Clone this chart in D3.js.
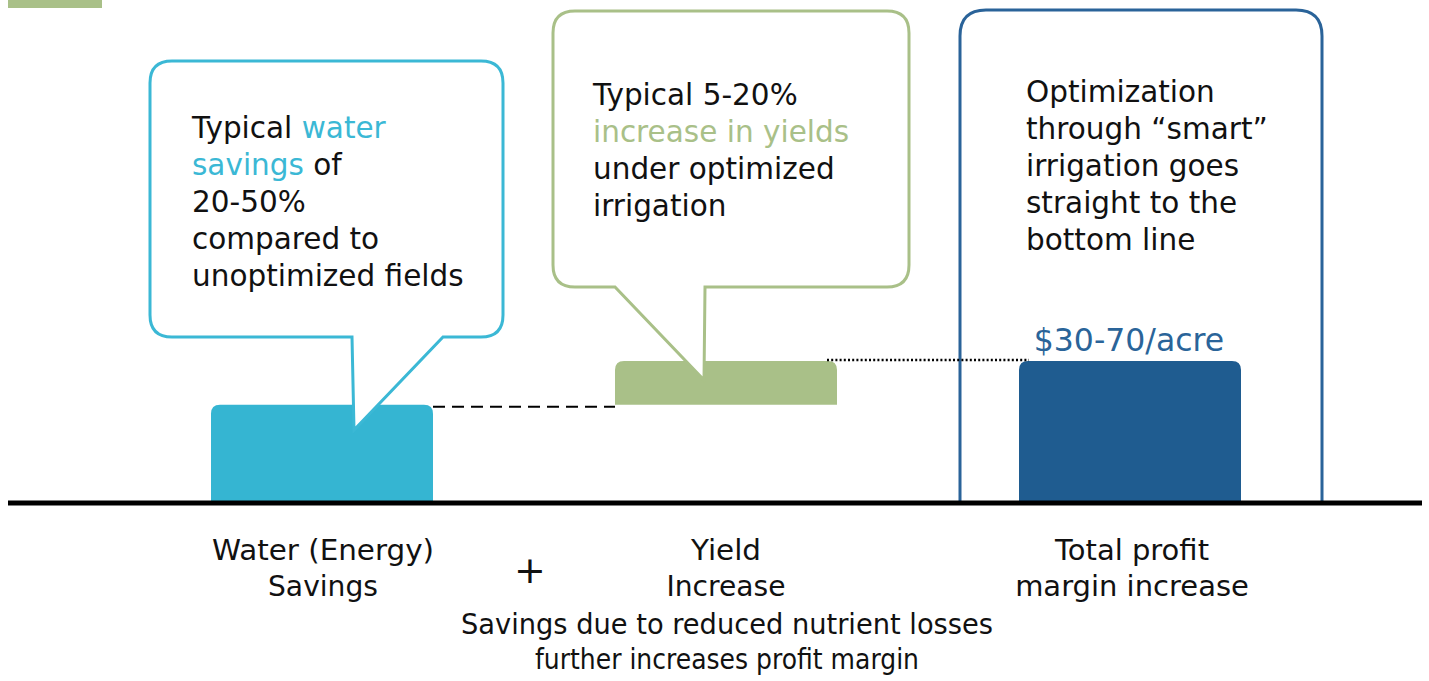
<!DOCTYPE html>
<html>
<head>
<meta charset="utf-8">
<script src="https://cdn.jsdelivr.net/npm/d3@7"></script>
<style>
  body { margin: 0; background: #fff; }
  svg text { font-family: "DejaVu Sans", Verdana, sans-serif; }
</style>
</head>
<body>
<div id="chart"></div>
<script>
// chart values (waterfall: water savings + yield increase = total)
var categories = ["water", "yield", "total"];
var labels = [
  ["Water (Energy)", "Savings"],
  ["Yield", "Increase"],
  ["Total profit", "margin increase"]
];
var values = [2.0, 0.9, 2.9];
var valueLabel = "$30-70/acre";
var noteLines = ["Savings due to reduced nutrient losses", "further increases profit margin"];

var calloutWater = [
  [{ t: "Typical " }, { t: "water", c: "accent" }],
  [{ t: "savings", c: "accent" }, { t: " of" }],
  [{ t: "20-50%" }],
  [{ t: "compared to" }],
  [{ t: "unoptimized fields" }]
];
var calloutYield = [
  [{ t: "Typical 5-20%" }],
  [{ t: "increase in yields", c: "accent" }],
  [{ t: "under optimized" }],
  [{ t: "irrigation" }]
];
var calloutTotal = [
  [{ t: "Optimization" }],
  [{ t: "through \u201csmart\u201d" }],
  [{ t: "irrigation goes" }],
  [{ t: "straight to the" }],
  [{ t: "bottom line" }]
];

var colors = { water: "#35b5d2", yield: "#a9c088", total: "#1f5c90" };
var strokeColors = { water: "#3bb8d5", yield: "#a9c088", total: "#2a6399" };

var width = 1429, height = 681;
var baseY = 502;

var svg = d3.select("#chart").append("svg")
  .attr("width", width)
  .attr("height", height);

// small green tab in the corner
svg.append("rect")
  .attr("x", 8).attr("y", 0).attr("width", 94).attr("height", 8)
  .attr("fill", colors.yield);

// scales
var x = d3.scalePoint().domain(categories).range([322, 1130]);
var y = d3.scaleLinear().domain([0, 10]).range([baseY, 16]);
var barW = 222;

// waterfall start/end for each bar
var starts = [0, values[0], 0];
var ends = [values[0], values[0] + values[1], values[2]];

function topRounded(x0, y0, w, h, r) {
  return "M" + x0 + "," + (y0 + h) +
    "V" + (y0 + r) +
    "Q" + x0 + "," + y0 + " " + (x0 + r) + "," + y0 +
    "H" + (x0 + w - r) +
    "Q" + (x0 + w) + "," + y0 + " " + (x0 + w) + "," + (y0 + r) +
    "V" + (y0 + h) + "Z";
}

// outline box behind total bar
var boxL = x("total") - 170, boxR = x("total") + 192, boxT = 10, boxR0 = 26;
svg.append("path")
  .attr("d", "M" + boxL + "," + baseY + "V" + (boxT + boxR0) +
    "Q" + boxL + "," + boxT + " " + (boxL + boxR0) + "," + boxT +
    "H" + (boxR - boxR0) +
    "Q" + boxR + "," + boxT + " " + boxR + "," + (boxT + boxR0) +
    "V" + baseY)
  .attr("fill", "none")
  .attr("stroke", strokeColors.total)
  .attr("stroke-width", 3);

// bars
svg.selectAll("path.bar")
  .data(categories)
  .enter()
  .append("path")
  .attr("class", "bar")
  .attr("d", function (d, i) {
    var top = y(ends[i]), bot = y(starts[i]);
    return topRounded(x(d) - barW / 2, top, barW, bot - top, 9);
  })
  .attr("fill", function (d) { return colors[d]; });

// connector lines
svg.append("line")
  .attr("x1", x("water") + barW / 2).attr("x2", x("yield") - barW / 2)
  .attr("y1", y(values[0]) + 2).attr("y2", y(values[0]) + 2)
  .attr("stroke", "#000").attr("stroke-width", 2)
  .attr("stroke-dasharray", "12,7");
svg.append("line")
  .attr("x1", x("yield") + barW / 2 - 10).attr("x2", x("total") - barW / 2 + 10)
  .attr("y1", y(ends[1]) - 1).attr("y2", y(ends[1]) - 1)
  .attr("stroke", "#000").attr("stroke-width", 2.5)
  .attr("stroke-dasharray", "2,2.2");

// callout bubble path with tail
function bubble(x0, y0, x1, y1, r, tl, tr, tip) {
  return "M" + (x0 + r) + "," + y0 +
    "H" + (x1 - r) +
    "Q" + x1 + "," + y0 + " " + x1 + "," + (y0 + r) +
    "V" + (y1 - r) +
    "Q" + x1 + "," + y1 + " " + (x1 - r) + "," + y1 +
    "H" + tr +
    "L" + tip[0] + "," + tip[1] +
    "L" + tl + "," + y1 +
    "H" + (x0 + r) +
    "Q" + x0 + "," + y1 + " " + x0 + "," + (y1 - r) +
    "V" + (y0 + r) +
    "Q" + x0 + "," + y0 + " " + (x0 + r) + "," + y0 + "Z";
}

svg.append("path")
  .attr("d", bubble(150, 61, 503, 337, 22, 352, 443, [354, 430]))
  .attr("fill", "#fff")
  .attr("stroke", strokeColors.water)
  .attr("stroke-width", 3);

svg.append("path")
  .attr("d", bubble(553, 11, 909, 287, 22, 615, 705, [704, 380]))
  .attr("fill", "#fff")
  .attr("stroke", strokeColors.yield)
  .attr("stroke-width", 3);

function writeLines(lines, x0, y0, step, accent) {
  var t = svg.append("text")
    .attr("font-size", 29.5)
    .attr("fill", "#111");
  lines.forEach(function (parts, i) {
    parts.forEach(function (p, j) {
      var ts = t.append("tspan").text(p.t)
        .attr("fill", p.c === "accent" ? accent : "#111");
      if (j === 0) ts.attr("x", x0).attr("y", y0 + i * step);
    });
  });
}

writeLines(calloutWater, 192, 138, 37, strokeColors.water);
writeLines(calloutYield, 593, 105, 37, colors.yield);
writeLines(calloutTotal, 1026, 102, 37, "#111");

// value label above total bar
svg.append("text")
  .attr("x", x("total") - 1)
  .attr("y", y(ends[2]) - 10)
  .attr("text-anchor", "middle")
  .attr("font-size", 31.5)
  .attr("fill", "#2a6499")
  .text(valueLabel);

// baseline
svg.append("line")
  .attr("x1", 8).attr("x2", 1422)
  .attr("y1", baseY + 1).attr("y2", baseY + 1)
  .attr("stroke", "#000").attr("stroke-width", 5);

// category labels (the first two are set in a narrow face)
var labelFit = [[222, 110], [70, 119], [null, null]];
categories.forEach(function (c, i) {
  labels[i].forEach(function (l, k) {
    var t = svg.append("text")
      .attr("x", x(c) + (i === 1 ? 0 : i === 0 ? 1 : 2))
      .attr("y", 560 + k * 36)
      .attr("text-anchor", "middle")
      .attr("font-size", 29)
      .attr("fill", "#111")
      .text(l);
    if (labelFit[i][k]) {
      t.attr("textLength", labelFit[i][k])
        .attr("lengthAdjust", "spacingAndGlyphs");
    }
  });
});

// plus sign
svg.append("text")
  .attr("x", 530).attr("y", 583)
  .attr("text-anchor", "middle")
  .attr("font-size", 38)
  .attr("fill", "#111")
  .text("+");

// note below
var noteFit = [532, 384];
svg.selectAll("text.note")
  .data(noteLines)
  .enter()
  .append("text")
  .attr("class", "note")
  .attr("text-anchor", "middle")
  .attr("font-size", 29)
  .attr("fill", "#111")
  .attr("x", 727)
  .attr("y", function (d, i) { return 634 + i * 35; })
  .attr("textLength", function (d, i) { return noteFit[i]; })
  .attr("lengthAdjust", "spacingAndGlyphs")
  .text(function (d) { return d; });
</script>
</body>
</html>
